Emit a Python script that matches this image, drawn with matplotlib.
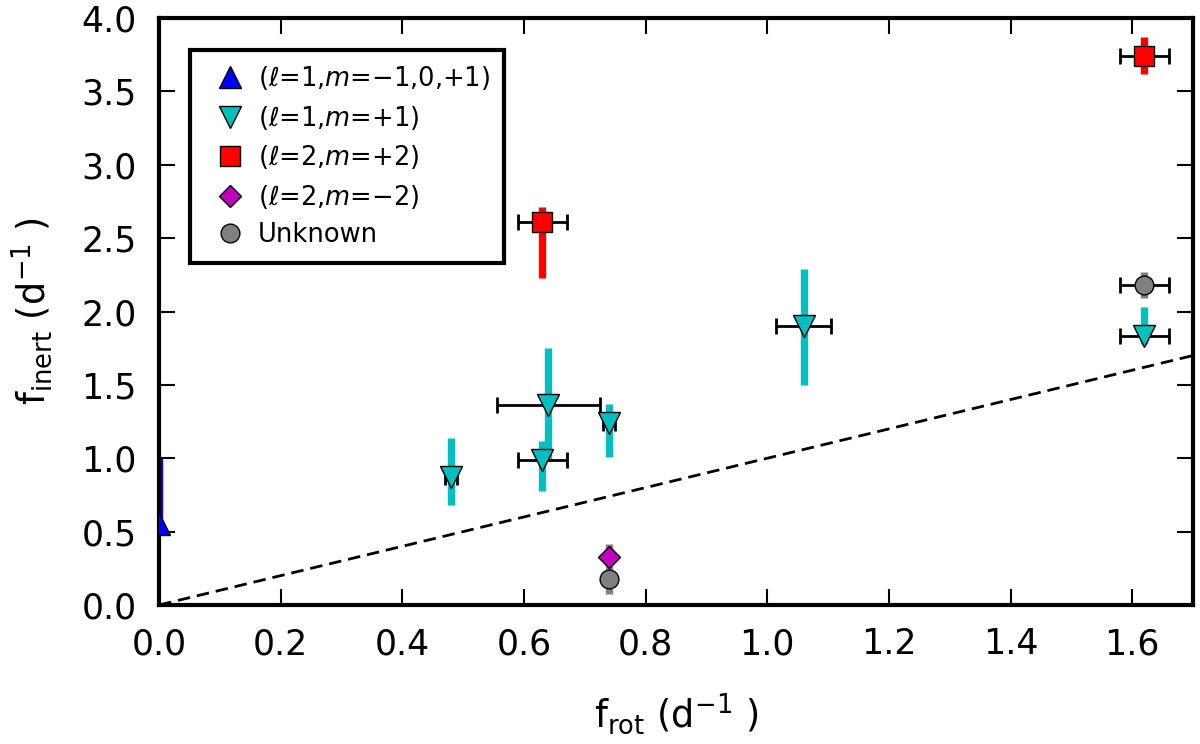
import numpy as np
from matplotlib import pyplot as plt

# l=1, m=-1,0,+1 (blue)
blue_x = [0.0]
blue_y = [0.55]
blue_yerr = [[0.07], [0.45]]

# l=1, m=+1 (cyan)
cyan_x = [0.48, 0.64, 0.63, 0.74, 1.06, 1.62]
cyan_y = [0.87, 1.36, 0.99, 1.24, 1.90, 1.83]
cyan_yerr = [[0.19, 0.37, 0.21, 0.23, 0.40, 0.05],
             [0.27, 0.39, 0.13, 0.13, 0.39, 0.20]]
cyan_xerr = [0.01, 0.085, 0.04, 0.01, 0.045, 0.04]

# l=2, m=+2 (red)
red_x = [0.63, 1.62]
red_y = [2.61, 3.74]
red_yerr = [[0.38, 0.12], [0.10, 0.13]]
red_xerr = [0.04, 0.04]

# l=2, m=-2 (magenta)
mag_x = [0.74]
mag_y = [0.33]
mag_yerr = [0.03]

# unknown (grey)
grey_x = [0.74, 1.62]
grey_y = [0.175, 2.18]
grey_yerr = [[0.10, 0.09], [0.24, 0.09]]
grey_xerr = [0.0, 0.04]

plt.rcParams['font.family'] = 'DejaVu Sans'
plt.rcParams['mathtext.fontset'] = 'dejavusans'

fig = plt.figure(figsize=(12, 7.44), dpi=100)
ax = fig.add_axes([159 / 1200, 139 / 744, 1034 / 1200, 587 / 744])

grey = '0.5'
cyan = (0.0, 0.75, 0.75)
mag = (0.75, 0.0, 0.75)

# thick vertical error bars
ax.errorbar(blue_x, blue_y, yerr=blue_yerr, fmt='none', ecolor='b', elinewidth=5.3, zorder=2)
ax.errorbar(cyan_x, cyan_y, yerr=cyan_yerr, fmt='none', ecolor=cyan, elinewidth=5.3, zorder=2)
ax.errorbar(red_x, red_y, yerr=red_yerr, fmt='none', ecolor='r', elinewidth=5.3, zorder=2)
ax.errorbar(mag_x, mag_y, yerr=mag_yerr, fmt='none', ecolor=mag, elinewidth=5.3, zorder=2)
ax.errorbar(grey_x, grey_y, yerr=grey_yerr, fmt='none', ecolor=grey, elinewidth=5.3, zorder=2)

# thin horizontal error bars
for xs, ys, xe in [(cyan_x, cyan_y, cyan_xerr), (red_x, red_y, red_xerr),
                   (grey_x[1:], grey_y[1:], grey_xerr[1:])]:
    ax.errorbar(xs, ys, xerr=xe, fmt='none', ecolor='k', elinewidth=2,
                capsize=6, capthick=2, zorder=3)

ax.plot(blue_x, blue_y, '^', color='b', mec='k', mew=1, ms=16, zorder=4,
        label=r'($\ell$=1,$m$=$-$1,0,+1)')
ax.plot(cyan_x, cyan_y, 'v', color=cyan, mec='k', mew=1, ms=16, zorder=4,
        label=r'($\ell$=1,$m$=+1)')
ax.plot(red_x, red_y, 's', color='r', mec='k', mew=1, ms=14, zorder=4,
        label=r'($\ell$=2,$m$=+2)')
ax.plot(mag_x, mag_y, 'D', color=mag, mec='k', mew=1, ms=11.5, zorder=4,
        label=r'($\ell$=2,$m$=$-$2)')
ax.plot(grey_x, grey_y, 'o', color=grey, mec='k', mew=1, ms=13.5, zorder=4,
        label='Unknown')

# 1:1 line
xx = np.array([0.0, 1.7])
ax.plot(xx, xx, 'k--', lw=2, dashes=(4.5, 2.5), zorder=1)

ax.set_xlim(0, 1.7)
ax.set_ylim(0, 4.0)
ax.set_xticks(np.arange(0, 1.61, 0.2))
ax.set_yticks(np.arange(0, 4.01, 0.5))

for s in ax.spines.values():
    s.set_linewidth(3)
ax.tick_params(direction='in', top=True, right=True, length=11.5, width=1.5,
               labelsize=25, pad=16)

ax.set_xlabel(r'f$_{\rm rot}$ (d$^{-1}$ )', fontsize=26.5, labelpad=22)
ax.set_ylabel(r'f$_{\rm inert}$ (d$^{-1}$ )', fontsize=26.5, labelpad=19)

leg = ax.legend(loc='upper left', bbox_to_anchor=(31 / 1034, 555 / 587), borderaxespad=0,
                numpoints=1, fontsize=18.5, fancybox=False, framealpha=1,
                borderpad=0.55, handletextpad=0.1, handlelength=2.0, labelspacing=0.45)
leg.get_frame().set_edgecolor('k')
leg.get_frame().set_linewidth(3)

fig.savefig('out.png', dpi=100)
